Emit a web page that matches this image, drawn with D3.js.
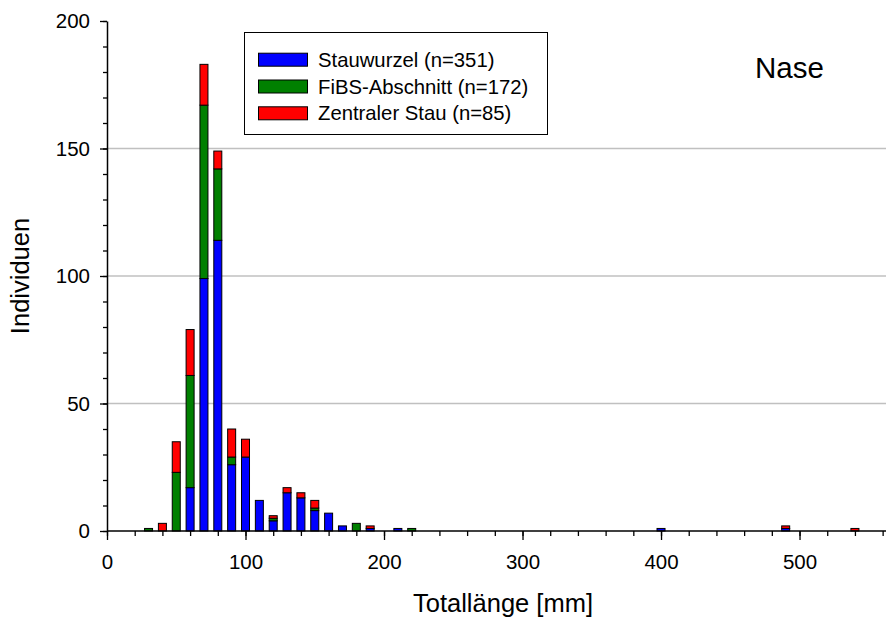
<!DOCTYPE html>
<html>
<head>
<meta charset="utf-8">
<script src="https://cdn.jsdelivr.net/npm/d3@7"></script>
<style>
  html, body { margin: 0; padding: 0; background: #fff; }
  svg { display: block; font-family: "Liberation Sans", Arial, sans-serif; }
</style>
</head>
<body>
<svg id="chart" width="890" height="617"></svg>
<script>
// ---- data ----
const bins = [30, 40, 50, 60, 70, 80, 90, 100, 110, 120, 130, 140, 150, 160, 170, 180, 190, 200, 210, 220, 400, 490, 540];
const stauwurzel = [0, 0, 0, 17, 99, 114, 26, 29, 12, 4, 15, 13, 8, 7, 2, 0, 1, 0, 1, 0, 1, 1, 0];
const fibs       = [1, 0, 23, 44, 68, 28, 3, 0, 0, 1, 0, 0, 1, 0, 0, 3, 0, 0, 0, 1, 0, 0, 0];
const zentral    = [0, 3, 12, 18, 16, 7, 11, 7, 0, 1, 2, 2, 3, 0, 0, 0, 1, 0, 0, 0, 0, 1, 1];
const seriesNames = ["Stauwurzel (n=351)", "FiBS-Abschnitt (n=172)", "Zentraler Stau (n=85)"];
const seriesColors = ["#0000ff", "#008000", "#ff0000"];
const xMajorTicks = [0, 100, 200, 300, 400, 500];
const yMajorTicks = [0, 50, 100, 150, 200];
const title = "Nase";
const xTitle = "Totallänge [mm]";
const yTitle = "Individuen";

// ---- layout ----
const svg = d3.select("#chart");
const x = d3.scaleLinear().domain([0, 562]).range([107, 885.4]);
const y = d3.scaleLinear().domain([0, 200]).range([531, 21]);

const keys = ["s", "f", "z"];
const table = bins.map((b, i) => ({ bin: b, s: stauwurzel[i], f: fibs[i], z: zentral[i] }));
const stacked = d3.stack().keys(keys)(table);

// gridlines
svg.append("g").selectAll("line")
  .data([50, 100, 150])
  .join("line")
  .attr("x1", x(0)).attr("x2", 886)
  .attr("y1", d => y(d)).attr("y2", d => y(d))
  .attr("stroke", "#c0c0c0").attr("stroke-width", 1.5);

// bars
const barW = 8;
stacked.forEach((layer, li) => {
  svg.append("g")
    .selectAll("rect")
    .data(layer.filter(d => d[1] - d[0] > 0))
    .join("rect")
    .attr("x", d => x(d.data.bin) - barW / 2)
    .attr("width", barW)
    .attr("y", d => y(d[1]))
    .attr("height", d => y(d[0]) - y(d[1]))
    .attr("fill", seriesColors[li])
    .attr("stroke", "#000")
    .attr("stroke-width", 1);
});

// x axis
const xMinor = d3.range(0, 562, 20);
const gxMinor = svg.append("g").attr("transform", `translate(0,${y(0)})`)
  .call(d3.axisBottom(x).tickValues(xMinor).tickSize(5).tickFormat(""));
const gx = svg.append("g").attr("transform", `translate(0,${y(0)})`)
  .call(d3.axisBottom(x).tickValues(xMajorTicks).tickSize(9).tickPadding(14).tickSizeOuter(0));
gxMinor.select(".domain").remove();
gx.select(".domain").attr("d", `M${x(0)},0H886`).attr("stroke-width", 1.5);
gx.selectAll("text").attr("font-size", 20.5).attr("fill", "#000").attr("font-family", "Liberation Sans, Arial, sans-serif");

// y axis
const yMinor = d3.range(0, 201, 10);
const gyMinor = svg.append("g").attr("transform", `translate(${x(0)},0)`)
  .call(d3.axisLeft(y).tickValues(yMinor).tickSize(4).tickFormat(""));
gyMinor.select(".domain").remove();
const gy = svg.append("g").attr("transform", `translate(${x(0)},0)`)
  .call(d3.axisLeft(y).tickValues(yMajorTicks).tickSize(7).tickPadding(10).tickSizeOuter(0));
gy.select(".domain").attr("stroke-width", 1.5);
gy.selectAll("text").attr("font-size", 20.5).attr("fill", "#000").attr("font-family", "Liberation Sans, Arial, sans-serif");
svg.selectAll(".tick line").attr("stroke", "#000").attr("stroke-width", 1.3);

// axis titles
svg.append("text")
  .attr("x", 503).attr("y", 612)
  .attr("text-anchor", "middle")
  .attr("font-size", 25.5)
  .text(xTitle);
svg.append("text")
  .attr("transform", "translate(29,276) rotate(-90)")
  .attr("text-anchor", "middle")
  .attr("font-size", 25.5)
  .text(yTitle);

// title
svg.append("text")
  .attr("x", 755).attr("y", 78)
  .attr("font-size", 29.5)
  .text(title);

// legend
const lg = svg.append("g");
lg.append("rect")
  .attr("x", 244.5).attr("y", 32.5).attr("width", 303).attr("height", 102)
  .attr("fill", "#fff").attr("stroke", "#000").attr("stroke-width", 1);
seriesNames.forEach((name, i) => {
  const cy = 59.7 + i * 26.8;
  lg.append("rect")
    .attr("x", 258.5).attr("y", cy - 6.5).attr("width", 49).attr("height", 13)
    .attr("fill", seriesColors[i]).attr("stroke", "#000").attr("stroke-width", 1);
  lg.append("text")
    .attr("x", 318).attr("y", cy).attr("dy", "0.35em")
    .attr("font-size", 20.3)
    .text(name);
});
</script>
</body>
</html>
